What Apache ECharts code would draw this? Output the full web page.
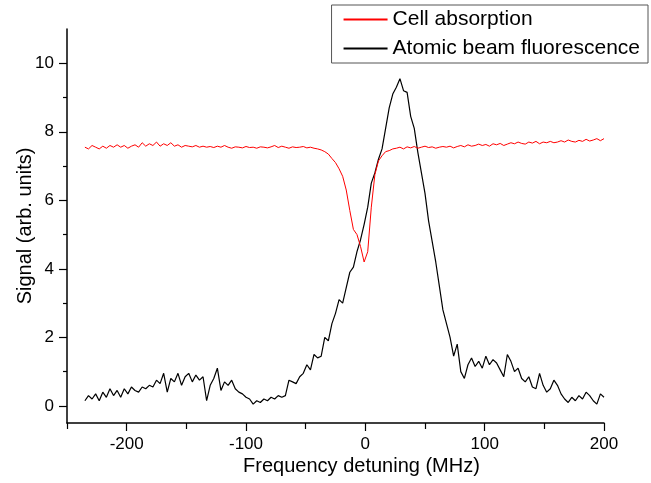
<!DOCTYPE html>
<html>
<head>
<meta charset="utf-8">
<script src="https://cdn.jsdelivr.net/npm/echarts@6/dist/echarts.min.js"></script>
<style>
  html, body { margin: 0; padding: 0; background: #fff; }
  #chart { width: 651px; height: 483px; }
</style>
</head>
<body>
<div id="chart"></div>
<script>
// frequency detuning (MHz)
var freq = [
  -235,-232,-229,-226,-223,-220,-217,-214,-211,-208,
  -205,-202,-199,-196,-193,-190,-187,-184,-181,-178,
  -175,-172,-169,-166,-163,-160,-157,-154,-151,-148,
  -145,-142,-139,-136,-133,-130,-127,-124,-121,-118,
  -115,-112,-109,-106,-103,-100,-97,-94,-91,-88,
  -85,-82,-79,-76,-73,-70,-67,-64,-61,-58,
  -55,-52,-49,-46,-43,-40,-37,-34,-31,-28,
  -25,-22,-19,-16,-13,-10,-7,-4,-1,2,
  5,8,11,14,17,20,23,26,29,32,
  35,38,41,44,47,50,53,56,59,62,
  65,68,71,74,77,80,83,86,89,92,
  95,98,101,104,107,110,113,116,119,122,
  125,128,131,134,137,140,143,146,149,152,
  155,158,161,164,167,170,173,176,179,182,
  185,188,191,194,197,200
];

// Cell absorption (red)
var cellAbs = [
  7.55,7.5,7.6,7.55,7.5,7.58,7.52,7.6,7.55,7.62,
  7.55,7.6,7.52,7.58,7.62,7.55,7.68,7.58,7.65,7.6,
  7.7,7.58,7.65,7.6,7.68,7.58,7.62,7.55,7.6,7.58,
  7.56,7.6,7.55,7.58,7.55,7.57,7.54,7.58,7.55,7.6,
  7.55,7.52,7.56,7.55,7.53,7.57,7.54,7.55,7.52,7.56,
  7.55,7.53,7.56,7.6,7.54,7.58,7.55,7.52,7.56,7.54,
  7.55,7.57,7.53,7.55,7.52,7.5,7.47,7.42,7.35,7.22,
  7.1,6.92,6.7,6.3,5.7,5.15,5.0,4.65,4.2,4.5,
  5.8,6.75,7.15,7.3,7.42,7.45,7.5,7.52,7.55,7.5,
  7.56,7.53,7.57,7.52,7.55,7.58,7.54,7.56,7.52,7.55,
  7.57,7.55,7.58,7.53,7.57,7.6,7.56,7.62,7.58,7.6,
  7.64,7.6,7.63,7.58,7.65,7.62,7.66,7.6,7.64,7.68,
  7.65,7.7,7.66,7.64,7.7,7.67,7.72,7.65,7.7,7.68,
  7.72,7.68,7.7,7.74,7.7,7.76,7.72,7.7,7.75,7.72,
  7.78,7.73,7.76,7.8,7.74,7.8
];

// Atomic beam fluorescence (black)
var beamFluo = [
  0.15,0.3,0.2,0.35,0.15,0.4,0.25,0.5,0.3,0.45,
  0.25,0.5,0.35,0.55,0.45,0.4,0.55,0.5,0.6,0.55,
  0.75,0.65,0.95,0.4,0.8,0.7,0.95,0.6,0.85,0.95,
  0.7,0.9,0.75,0.85,0.15,0.6,0.8,1.1,0.45,0.7,
  0.6,0.75,0.5,0.4,0.35,0.25,0.2,0.05,0.15,0.1,
  0.2,0.15,0.25,0.2,0.3,0.25,0.3,0.75,0.7,0.65,
  0.85,0.95,1.2,1.05,1.5,1.4,1.45,2.0,1.9,2.4,
  2.7,3.1,3.0,3.45,3.9,4.05,4.5,4.85,5.3,5.8,
  6.5,6.8,7.2,7.5,8.1,8.7,9.1,9.3,9.55,9.2,
  9.15,8.45,8.1,7.4,6.8,6.2,5.4,4.8,4.2,3.5,
  2.8,2.4,2.0,1.45,1.8,1.0,0.8,1.2,1.4,1.15,
  1.3,1.1,1.45,1.2,1.35,1.25,1.05,0.85,1.5,1.3,
  1.0,1.1,0.8,0.7,0.85,0.55,0.5,0.95,0.6,0.4,
  0.5,0.75,0.6,0.35,0.2,0.1,0.25,0.15,0.3,0.2,
  0.4,0.3,0.15,0.05,0.35,0.25
];

var xMajor = [-200, -100, 0, 100, 200];
var xMinor = [-250, -150, -50, 50, 150];
var yMajor = [0, 2, 4, 6, 8, 10];
var yMinor = [1, 3, 5, 7, 9];

var font = "'Liberation Sans', Arial, sans-serif";

function pairs(xs, ys) {
  var out = [];
  for (var i = 0; i < xs.length; i++) out.push([xs[i], ys[i]]);
  return out;
}

var myChart = echarts.init(document.getElementById('chart'));

var axisLine = { show: true, onZero: false, lineStyle: { color: '#000', width: 1.5 } };
var noLine = { show: false, onZero: false };

var option = {
  animation: false,
  backgroundColor: '#fff',
  grid: { left: 67, right: 47, top: 29, bottom: 60 },
  legend: {
    orient: 'vertical',
    right: 3,
    top: 5,
    padding: [4, 8, 4, 11],
    borderColor: '#555',
    borderWidth: 1,
    itemWidth: 44,
    itemHeight: 14,
    itemGap: 8,
    itemStyle: { opacity: 0 },
    textStyle: { fontFamily: font, fontSize: 21, color: '#000', lineHeight: 20 },
    data: ['Cell absorption', 'Atomic beam fluorescence']
  },
  xAxis: [{
    type: 'value',
    min: -250,
    max: 200,
    name: 'Frequency detuning (MHz)',
    nameLocation: 'middle',
    nameGap: 33,
    nameMoveOverlap: false,
    nameTextStyle: { fontFamily: font, fontSize: 20, color: '#000', padding: [0, 0, 0, 52] },
    axisLine: axisLine,
    axisTick: { show: true, length: 8, customValues: xMajor, lineStyle: { color: '#000', width: 1.2 } },
    axisLabel: { customValues: xMajor, margin: 13, fontFamily: font, fontSize: 17, color: '#000' },
    splitLine: { show: false }
  }, {
    type: 'value',
    min: -250,
    max: 200,
    position: 'bottom',
    axisLine: noLine,
    axisTick: { show: true, length: 6, customValues: xMinor, lineStyle: { color: '#000', width: 1.2 } },
    axisLabel: { show: false },
    splitLine: { show: false }
  }],
  yAxis: [{
    type: 'value',
    min: -0.5,
    max: 11,
    name: 'Signal (arb. units)',
    nameLocation: 'middle',
    nameGap: 32,
    nameMoveOverlap: false,
    nameTextStyle: { fontFamily: font, fontSize: 20, color: '#000' },
    axisLine: axisLine,
    axisTick: { show: true, length: 8, customValues: yMajor, lineStyle: { color: '#000', width: 1.2 } },
    axisLabel: { customValues: yMajor, margin: 13, fontFamily: font, fontSize: 17, color: '#000' },
    splitLine: { show: false }
  }, {
    type: 'value',
    min: -0.5,
    max: 11,
    position: 'left',
    axisLine: noLine,
    axisTick: { show: true, length: 4, customValues: yMinor, lineStyle: { color: '#000', width: 1.2 } },
    axisLabel: { show: false },
    splitLine: { show: false }
  }],
  series: [{
    name: 'Cell absorption',
    type: 'line',
    symbol: 'none',
    data: pairs(freq, cellAbs),
    lineStyle: { color: '#ff0000', width: 1 },
    itemStyle: { color: '#ff0000' },
    z: 3
  }, {
    name: 'Atomic beam fluorescence',
    type: 'line',
    symbol: 'none',
    data: pairs(freq, beamFluo),
    lineStyle: { color: '#000', width: 1.2 },
    itemStyle: { color: '#000' },
    z: 2
  }]
};

myChart.setOption(option);
</script>
</body>
</html>
